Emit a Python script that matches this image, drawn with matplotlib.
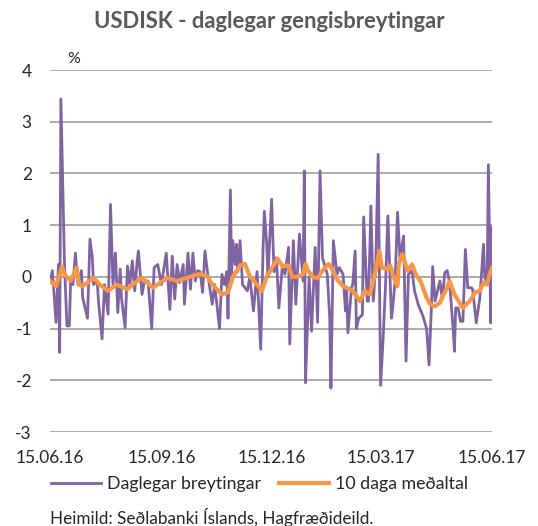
import matplotlib
matplotlib.use("Agg")
import matplotlib.pyplot as plt
import pandas as pd

plt.rcParams["font.family"] = ["Lato", "DejaVu Sans"]
plt.rcParams["axes.unicode_minus"] = False

START = "2016-06-15"

# days since 15.06.16 and daily change (%)
daily_day = [
    0, 2, 5, 7, 8, 9, 12, 14, 16, 17, 19, 21, 23, 26, 27, 31, 33, 35, 36, 39,
    40, 43, 45, 47, 48, 50, 52, 54, 55, 56, 58, 59, 62, 64, 66, 68, 70, 72, 73, 76,
    78, 81, 84, 86, 89, 92, 96, 99, 101, 103, 105, 107, 110, 111, 114, 116, 118, 120, 122,
    124, 126, 128, 130, 134, 136, 140, 142, 144, 146, 147, 149, 150, 151, 153, 154, 155, 157, 159, 163,
    165, 168, 171, 174, 176, 177, 179, 180, 183, 185, 187, 189, 192, 194, 197, 198, 201, 203, 206, 209,
    210, 211, 214, 216, 219, 221, 223, 225, 229, 231, 232, 234, 237,
    239, 242, 244, 245, 246, 249, 250, 252, 253, 255, 258, 259, 262, 263, 265, 267, 269, 271, 273, 275,
    277, 279, 282, 283, 285, 287, 289, 292, 294, 296, 299, 301, 304, 308, 311, 313, 315, 316, 318, 322,
    324, 326, 328, 330, 333, 334, 335, 337, 339, 341, 343, 345, 348, 349, 352, 355, 358, 359, 361, 362,
    364, 365,
]
daily_change = [
    -0.1, 0.12, -0.88, 0.24, -1.46, 3.44, 0.24, -0.95, -0.95, -0.1, -0.15, 0.46, -0.15, 0.12, -0.4, -0.8, 0.73, 0.37, -0.15, -0.08,
    -0.46, -1.2, -0.15, -0.53, -0.72, 1.4, -0.15, 0.46, -0.08, -0.69, 0.15, -0.4, -0.98, 0.21, -0.15, 0.31, -0.27, 0.31, 0.5, -0.34,
    -0.08, -0.08, -1.0, 0.18, 0.24, -0.15, 0.46, -0.63, 0.4, -0.43, 0.24, -0.11, 0.24, -0.53, 0.46, -0.24, 0.46, -0.08, 0.12,
    0.1, -0.3, 0.5, 0.1, -0.53, -0.15, -1.0, 0.05, -0.15, 0.1, -0.8, 1.68, 0.0, 0.7, 0.24, 0.63, 0.1, 0.7, -0.15, -0.27,
    0.0, -0.66, 0.1, -1.4, 0.57, 1.27, 0.63, 0.0, 1.5, 0.1, 0.37, -0.6, 0.24, 0.05, 0.57, -1.3, 0.7, -0.53, 0.83, -0.08,
    2.05, -2.05, 0.0, -1.05, 0.57, -0.88, 2.05, 0.37, 0.05, -0.8, -2.15, 0.7, 0.05,
    0.18, 0.05, -0.66, -0.27, -1.08, -0.21, -0.15, 0.5, -1.0, -0.8, -0.73, 1.16, -0.47, -0.47, 1.37, -0.47, 0.24, 2.37, -2.1, -1.24,
    -0.21, 1.18, -0.8, -0.6, -0.08, 1.25, 0.37, 0.79, -1.63, 0.05, 0.12, -0.27, -0.53, -0.76, -1.0, -1.7, -0.57, 0.2, -0.47, -0.08,
    -0.43, 0.08, 0.12, -0.11, -1.05, -1.44, -0.6, -0.6, -0.86, -0.86, 0.53, -0.21, -0.21, -0.24, -0.89, -0.4, 0.63, 0.0, -0.15, 2.17,
    -0.89, 0.96,
]

# 10 day average (%)
avg_day = [
    0, 5, 10, 12, 17, 22, 24, 27, 36, 41, 48, 55, 64, 68, 76, 85, 97, 105, 113, 122,
    124, 130, 134, 142, 147, 151, 157, 161, 165, 171, 175, 179, 184, 188, 192, 197, 200, 204, 209, 211,
    213, 217, 221, 225, 230, 233, 237,
    242, 250, 256, 260, 264, 267, 270, 272, 274, 278, 281, 283, 287, 288, 291, 292, 295, 299, 302, 306,
    308, 311, 314, 318, 322, 325, 328, 330, 334, 339, 341, 345, 348, 351, 355, 358, 361, 363, 365,
]
avg_value = [
    -0.08, -0.18, 0.2, 0.05, -0.08, 0.18, -0.15, -0.18, -0.02, -0.15, -0.27, -0.15, -0.24, -0.15, -0.02, -0.21, -0.02, -0.08, -0.02, 0.05,
    0.05, 0.01, -0.15, -0.34, -0.3, 0.0, 0.22, 0.25, 0.01, -0.15, -0.27, 0.0, 0.2, 0.35, 0.2, 0.22, 0.0, 0.0, 0.05, 0.25,
    0.12, 0.0, -0.03, 0.12, 0.25, 0.15, -0.05,
    -0.18, -0.27, -0.47, -0.27, -0.34, -0.08, 0.24, 0.5, 0.18, 0.15, 0.22, 0.05, -0.18, 0.24, 0.44, 0.37, 0.12, 0.24, 0.05, -0.08,
    -0.21, -0.4, -0.53, -0.57, -0.5, -0.34, -0.21, -0.08, -0.34, -0.53, -0.6, -0.5, -0.43, -0.3, -0.27, -0.11, -0.15, 0.05, 0.18,
]

tick_dates = ["2016-06-15", "2016-09-15", "2016-12-15", "2017-03-15", "2017-06-15"]

start = pd.Timestamp(START)
daily_x = start + pd.to_timedelta(daily_day, unit="D")
avg_x = start + pd.to_timedelta(avg_day, unit="D")
ticks = pd.to_datetime(tick_dates)

PURPLE = "#8064A2"
ORANGE = "#F79646"
TEXT = "#262626"

fig = plt.figure(figsize=(5.38, 5.26), dpi=100)
ax = fig.add_axes([0.0929, 0.1787, 0.8216, 0.6882])

l1, = ax.plot(daily_x, daily_change, color=PURPLE, lw=2.0, label="Daglegar breytingar", zorder=3)
l2, = ax.plot(avg_x, avg_value, color=ORANGE, lw=3.0, label="10 daga meðaltal", zorder=4)

ax.set_ylim(-3, 4)
ax.set_yticks(range(-3, 5))
ax.set_xlim(ticks[0], ticks[-1])
ax.set_xticks(ticks)
ax.set_xticklabels([t.strftime("%d.%m.%y") for t in ticks])
ax.grid(axis="y", color="#A6A6A6", lw=1.3, zorder=0)
for s in ax.spines.values():
    s.set_visible(False)
ax.tick_params(length=0, labelsize=12.5, colors=TEXT)
ax.tick_params(axis="y", pad=13)
ax.tick_params(axis="x", pad=13)

ax.text(0.054, 1.01, "%", transform=ax.transAxes, fontsize=11.5, color=TEXT,
        ha="center", va="bottom")

fig.text(0.5, 0.96, "USDISK - daglegar gengisbreytingar", ha="center", va="center",
         fontsize=15.8, fontweight="bold", color="#595959")

fig.legend(handles=[l1, l2], loc="center left", bbox_to_anchor=(0.095, 0.079),
           ncol=2, frameon=False, fontsize=12.8, handlelength=2.8,
           handletextpad=0.35, columnspacing=1.0, borderpad=0, borderaxespad=0,
           labelcolor=TEXT)

fig.text(0.093, 0.017, "Heimild: Seðlabanki Íslands, Hagfræðideild.", ha="left",
         va="center", fontsize=12.3, color=TEXT)

fig.savefig("out.png", dpi=100)
